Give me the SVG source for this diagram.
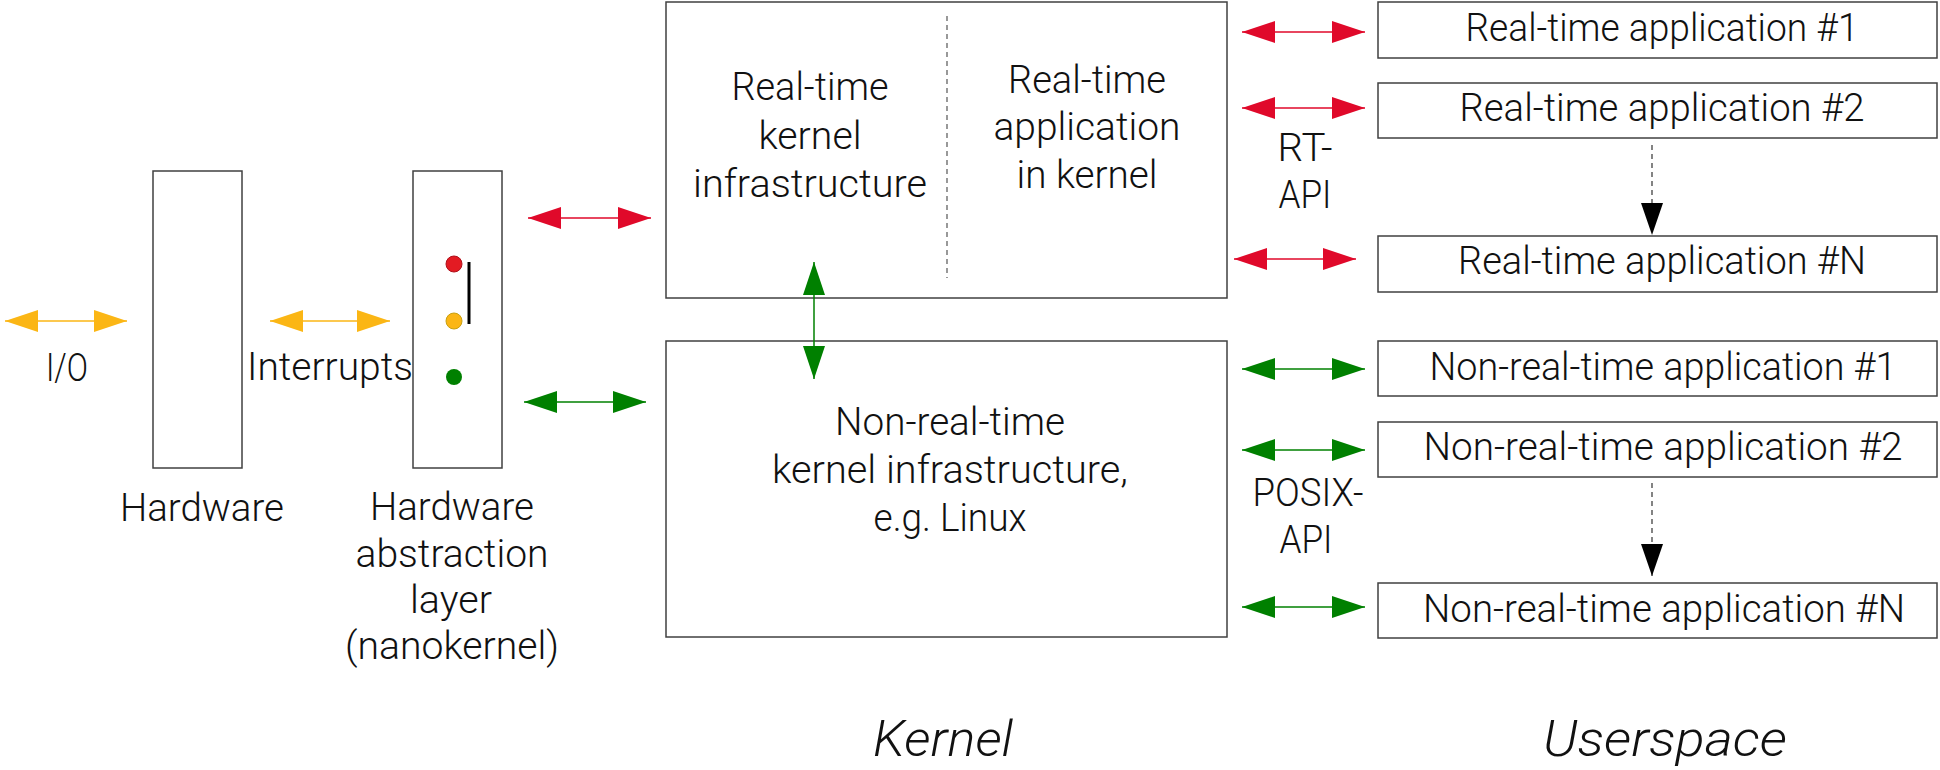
<svg xmlns="http://www.w3.org/2000/svg" width="1940" height="770" viewBox="0 0 1940 770">
  <style>
    .box { fill: #ffffff; stroke: #404040; stroke-width: 1.5; }
    .lbl { font-family: Roboto, "Liberation Sans", sans-serif; font-weight: 300; font-size: 38px; fill: #111111; text-anchor: middle; }
    .area { font-family: Roboto, "Liberation Sans", sans-serif; font-weight: 300; font-style: italic; font-size: 50px; fill: #111111; text-anchor: middle; }
    .io { stroke: #fbb615; stroke-width: 1.5; fill: none; marker-start: url(#hy); marker-end: url(#hy); }
    .rt { stroke: #e0092a; stroke-width: 1.5; fill: none; marker-start: url(#hr); marker-end: url(#hr); }
    .nrt { stroke: #008000; stroke-width: 1.5; fill: none; marker-start: url(#hg); marker-end: url(#hg); }
    .more { stroke: #333333; stroke-width: 1.2; stroke-dasharray: 5 4; fill: none; marker-end: url(#hk); }
    .sep { stroke: #555555; stroke-width: 1.2; stroke-dasharray: 5 4; fill: none; }
  </style>
  <defs>
    <marker id="hy" markerUnits="userSpaceOnUse" markerWidth="34" markerHeight="22" refX="33" refY="11" orient="auto-start-reverse">
      <path d="M0,0 L33,11 L0,22 z" fill="#fbb615"/>
    </marker>
    <marker id="hr" markerUnits="userSpaceOnUse" markerWidth="34" markerHeight="22" refX="33" refY="11" orient="auto-start-reverse">
      <path d="M0,0 L33,11 L0,22 z" fill="#e0092a"/>
    </marker>
    <marker id="hg" markerUnits="userSpaceOnUse" markerWidth="34" markerHeight="22" refX="33" refY="11" orient="auto-start-reverse">
      <path d="M0,0 L33,11 L0,22 z" fill="#008000"/>
    </marker>
    <marker id="hk" markerUnits="userSpaceOnUse" markerWidth="32" markerHeight="22" refX="32" refY="11" orient="auto">
      <path d="M0,0 L32,11 L0,22 z" fill="#000000"/>
    </marker>
  </defs>

  <rect width="1940" height="770" fill="#ffffff"/>

  <!-- Hardware -->
  <g id="hardware">
    <rect class="box" x="153" y="171" width="89" height="297"/>
    <text class="lbl" x="202" y="521" textLength="164" lengthAdjust="spacingAndGlyphs">Hardware</text>
  </g>

  <!-- Hardware abstraction layer with its three interrupt lamps -->
  <g id="hal">
    <rect class="box" x="413" y="171" width="89" height="297"/>
    <circle cx="454" cy="264" r="8" fill="#e31b23" stroke="#b0101a" stroke-width="1"/>
    <circle cx="454" cy="321" r="8" fill="#fbb615" stroke="#c9a010" stroke-width="1"/>
    <circle cx="454" cy="377" r="8" fill="#008000"/>
    <line x1="469" y1="262" x2="469" y2="324" stroke="#000000" stroke-width="3"/>
    <text class="lbl" x="452" y="520" textLength="164" lengthAdjust="spacingAndGlyphs">Hardware</text>
    <text class="lbl" x="452" y="567" textLength="193" lengthAdjust="spacingAndGlyphs">abstraction</text>
    <text class="lbl" x="451" y="613" textLength="82" lengthAdjust="spacingAndGlyphs">layer</text>
    <text class="lbl" x="452" y="659" textLength="214" lengthAdjust="spacingAndGlyphs">(nanokernel)</text>
  </g>

  <!-- Real-time kernel -->
  <g id="rt-kernel">
    <rect class="box" x="666" y="2" width="561" height="296"/>
    <line class="sep" x1="947" y1="16" x2="947" y2="278"/>
    <text class="lbl" x="810" y="100" textLength="157" lengthAdjust="spacingAndGlyphs">Real-time</text>
    <text class="lbl" x="810" y="149" textLength="103" lengthAdjust="spacingAndGlyphs">kernel</text>
    <text class="lbl" x="810" y="197" textLength="234" lengthAdjust="spacingAndGlyphs">infrastructure</text>
    <text class="lbl" x="1087" y="93" textLength="158" lengthAdjust="spacingAndGlyphs">Real-time</text>
    <text class="lbl" x="1087" y="140" textLength="187" lengthAdjust="spacingAndGlyphs">application</text>
    <text class="lbl" x="1087" y="188" textLength="141" lengthAdjust="spacingAndGlyphs">in kernel</text>
  </g>

  <!-- Non-real-time kernel -->
  <g id="nrt-kernel">
    <rect class="box" x="666" y="341" width="561" height="296"/>
    <text class="lbl" x="950" y="435" textLength="230" lengthAdjust="spacingAndGlyphs">Non-real-time</text>
    <text class="lbl" x="950" y="483" textLength="356" lengthAdjust="spacingAndGlyphs">kernel infrastructure,</text>
    <text class="lbl" x="950" y="531" textLength="153" lengthAdjust="spacingAndGlyphs">e.g. Linux</text>
  </g>

  <!-- Userspace applications -->
  <g id="rt-app-1">
    <rect class="box" x="1378" y="2" width="559" height="56"/>
    <text class="lbl" x="1662" y="41" textLength="393" lengthAdjust="spacingAndGlyphs">Real-time application #1</text>
  </g>
  <g id="rt-app-2">
    <rect class="box" x="1378" y="83" width="559" height="55"/>
    <text class="lbl" x="1662" y="121" textLength="405" lengthAdjust="spacingAndGlyphs">Real-time application #2</text>
  </g>
  <g id="rt-app-n">
    <rect class="box" x="1378" y="236" width="559" height="56"/>
    <text class="lbl" x="1662" y="274" textLength="408" lengthAdjust="spacingAndGlyphs">Real-time application #N</text>
  </g>
  <g id="nrt-app-1">
    <rect class="box" x="1378" y="341" width="559" height="55"/>
    <text class="lbl" x="1663" y="380" textLength="467" lengthAdjust="spacingAndGlyphs">Non-real-time application #1</text>
  </g>
  <g id="nrt-app-2">
    <rect class="box" x="1378" y="422" width="559" height="55"/>
    <text class="lbl" x="1663" y="460" textLength="479" lengthAdjust="spacingAndGlyphs">Non-real-time application #2</text>
  </g>
  <g id="nrt-app-n">
    <rect class="box" x="1378" y="583" width="559" height="55"/>
    <text class="lbl" x="1664" y="622" textLength="482" lengthAdjust="spacingAndGlyphs">Non-real-time application #N</text>
  </g>

  <!-- Connectors -->
  <g id="connectors">
    <line class="io" x1="5" y1="321" x2="127" y2="321"/>
    <line class="io" x1="270" y1="321" x2="390" y2="321"/>
    <line class="rt" x1="528" y1="218" x2="651" y2="218"/>
    <line class="nrt" x1="524" y1="402" x2="646" y2="402"/>
    <line class="nrt" x1="814" y1="262" x2="814" y2="379"/>
    <line class="rt" x1="1242" y1="32" x2="1365" y2="32"/>
    <line class="rt" x1="1242" y1="108" x2="1365" y2="108"/>
    <line class="rt" x1="1234" y1="259" x2="1356" y2="259"/>
    <line class="nrt" x1="1242" y1="369" x2="1365" y2="369"/>
    <line class="nrt" x1="1242" y1="450" x2="1365" y2="450"/>
    <line class="nrt" x1="1242" y1="607" x2="1365" y2="607"/>
    <line class="more" x1="1652" y1="145" x2="1652" y2="235"/>
    <line class="more" x1="1652" y1="483" x2="1652" y2="576"/>
  </g>

  <!-- Connector labels -->
  <g id="labels">
    <text class="lbl" x="67" y="381" textLength="42" lengthAdjust="spacingAndGlyphs">I/O</text>
    <text class="lbl" x="330" y="380" textLength="166" lengthAdjust="spacingAndGlyphs">Interrupts</text>
    <text class="lbl" x="1305" y="161" textLength="55" lengthAdjust="spacingAndGlyphs">RT-</text>
    <text class="lbl" x="1305" y="208" textLength="53" lengthAdjust="spacingAndGlyphs">API</text>
    <text class="lbl" x="1308" y="506" textLength="111" lengthAdjust="spacingAndGlyphs">POSIX-</text>
    <text class="lbl" x="1306" y="553" textLength="53" lengthAdjust="spacingAndGlyphs">API</text>
  </g>

  <!-- Area captions -->
  <g id="areas">
    <text class="area" x="943" y="756" textLength="140" lengthAdjust="spacingAndGlyphs">Kernel</text>
    <text class="area" x="1665" y="756" textLength="244" lengthAdjust="spacingAndGlyphs">Userspace</text>
  </g>
</svg>
